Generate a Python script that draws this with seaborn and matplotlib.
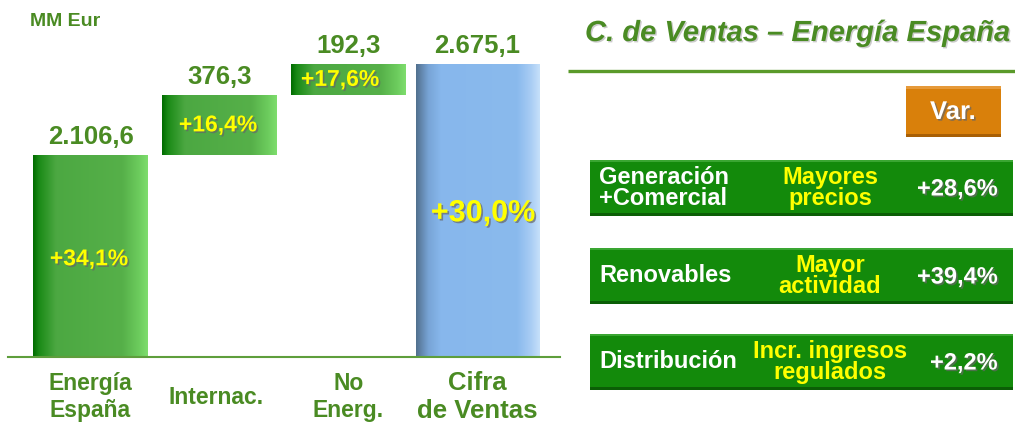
import numpy as np
import matplotlib
matplotlib.use("Agg")
import matplotlib.pyplot as plt
import matplotlib.patheffects as pe
import matplotlib.transforms as mtransforms
from matplotlib.colors import LinearSegmentedColormap
from matplotlib.patches import Rectangle
import seaborn as sns

# datos del gráfico (MM Eur)
categorias = ["Energía\nEspaña", "Internac.", "No\nEnerg.", "Cifra\nde Ventas"]
importes = [2106.6, 376.3, 192.3, 2675.1]
etiquetas_importe = ["2.106,6", "376,3", "192,3", "2.675,1"]
variaciones = ["+34,1%", "+16,4%", "+17,6%", "+30,0%"]

negocios = ["Generación\n+Comercial", "Renovables", "Distribución"]
motivos = ["Mayores\nprecios", "Mayor\nactividad", "Incr. ingresos\nregulados"]
var_negocio = ["+28,6%", "+39,4%", "+2,2%"]

VERDE_TXT = "#4a8b23"
AMARILLO = "#ffff00"

sns.set_theme(style="white")
plt.rcParams["font.family"] = ["Liberation Sans", "DejaVu Sans"]

# escalera: bases y cimas de cada barra
acum = np.cumsum(importes[:3])
bases = [0, acum[0], acum[1], 0]
cimas = [acum[0], acum[1], acum[2], importes[3]]

verde = LinearSegmentedColormap.from_list(
    "verde", [(0, "#006c00"), (0.05, "#1a8a16"), (0.2, "#4ca842"),
              (0.78, "#56b049"), (0.92, "#6ccb5d"), (1, "#7edd6d")])
azul = LinearSegmentedColormap.from_list(
    "azul", [(0, "#52708e"), (0.1, "#78a4d6"), (0.2, "#87b7ec"),
             (0.82, "#8abaed"), (0.93, "#a9cdf4"), (1, "#c6e0fa")])
grad = np.linspace(0, 1, 256).reshape(1, -1)

fig = plt.figure(figsize=(10.15, 4.23), dpi=100)
ax = fig.add_axes([8 / 1015, 66 / 423, 552 / 1015, 357 / 423])

sns.barplot(x=categorias, y=cimas, ax=ax, width=0.89, color="#55b048",
            saturation=1, errorbar=None)

y_min, y_max = 844.6, 3075
ax.set_autoscale_on(False)
for i, barra in enumerate(ax.patches):
    barra.set_y(bases[i])
    barra.set_height(cimas[i] - bases[i])
    if i == 3:
        barra.set_width(0.955)
        barra.set_x(i - 0.955 / 2)
    barra.set_facecolor("none")
    barra.set_edgecolor("none")
    x0, w = barra.get_x(), barra.get_width()
    y0 = max(bases[i], y_min)
    im = ax.imshow(grad, cmap=azul if i == 3 else verde, aspect="auto",
                   extent=(x0, x0 + w, y0, cimas[i]), zorder=2,
                   interpolation="bilinear")
    im.set_clip_path(barra)

ax.set_xlim(-0.64, 3.64)
ax.set_ylim(y_min, y_max)
ax.set_xticks([])
ax.set_yticks([])
ax.set_xlabel("")
ax.set_facecolor("none")
sns.despine(ax=ax, left=True, top=True, right=True)
ax.spines["bottom"].set_color("#5e9e3c")
ax.spines["bottom"].set_linewidth(1.5)

sombra = [pe.withSimplePatchShadow(offset=(1.2, -1.2), shadow_rgbFace="#666666", alpha=0.7)]

for i in range(4):
    ax.annotate(etiquetas_importe[i], (i, cimas[i]), xytext=(0, 8),
                textcoords="offset points", ha="center", va="baseline",
                fontsize=18.5, fontweight="bold", color=VERDE_TXT)
    medio = (max(bases[i], y_min) + cimas[i]) / 2
    dx = {2: -6, 3: 4}.get(i, -1)
    dy = -2 if i in (0, 3) else 0
    ax.annotate(variaciones[i], (i, medio), xytext=(dx, dy),
                textcoords="offset points", ha="center", va="center",
                fontsize=22 if i == 3 else 16.5, fontweight="bold",
                color=AMARILLO, path_effects=sombra, zorder=5)

trans = mtransforms.blended_transform_factory(ax.transData, ax.transAxes)
for i, cat in enumerate(categorias):
    ax.text(i - (0.03 if i == 1 else 0), -40 / 357, cat, transform=trans,
            ha="center", va="center",
            fontsize=18.5 if i == 3 else 16.5, fontweight="bold",
            color=VERDE_TXT, linespacing=1.22)

# panel derecho en coordenadas de píxel
axp = fig.add_axes([0, 0, 1, 1])
axp.set_xlim(0, 1015)
axp.set_ylim(423, 0)
axp.axis("off")

axp.text(30, 22, "MM Eur", ha="left", va="center", fontsize=14,
         fontweight="bold", color=VERDE_TXT)

axp.text(1010, 33, "C. de Ventas – Energía España", ha="right", va="center",
         fontsize=21, fontweight="bold", style="italic", color=VERDE_TXT,
         path_effects=[pe.withSimplePatchShadow(offset=(1, -1), shadow_rgbFace="#999999", alpha=0.5)])
axp.plot([568, 1015], [71, 71], color="#5a9a2a", lw=2.4, solid_capstyle="butt")

axp.add_patch(Rectangle((906, 86), 95, 51, fc="#d9800b", ec="none"))
axp.add_patch(Rectangle((906, 86), 95, 3, fc="#e69a3a", ec="none"))
axp.add_patch(Rectangle((906, 134), 95, 3, fc="#a85f05", ec="none"))
axp.text(953, 112, "Var.", ha="center", va="center", fontsize=18.5,
         fontweight="bold", color="white", path_effects=sombra)

cajas_y = [160, 248, 334]
for k in range(3):
    y = cajas_y[k]
    axp.add_patch(Rectangle((590, y), 423, 56, fc="#138a0b", ec="none"))
    axp.add_patch(Rectangle((590, y), 423, 2.5, fc="#3aa632", ec="none"))
    axp.add_patch(Rectangle((590, y + 53.5), 423, 2.5, fc="#0b5e06", ec="none"))
    yc = y + 28
    axp.text(599, yc, negocios[k], ha="left", va="center", fontsize=17,
             fontweight="bold", color="white", linespacing=0.92)
    axp.text(830, yc, motivos[k], ha="center", va="center", fontsize=17,
             fontweight="bold", color=AMARILLO, linespacing=0.92)
    axp.text(998, yc + 1, var_negocio[k], ha="right", va="center", fontsize=17,
             fontweight="bold", color="white", path_effects=sombra)

fig.savefig("out.png", dpi=100)
plt.close(fig)
